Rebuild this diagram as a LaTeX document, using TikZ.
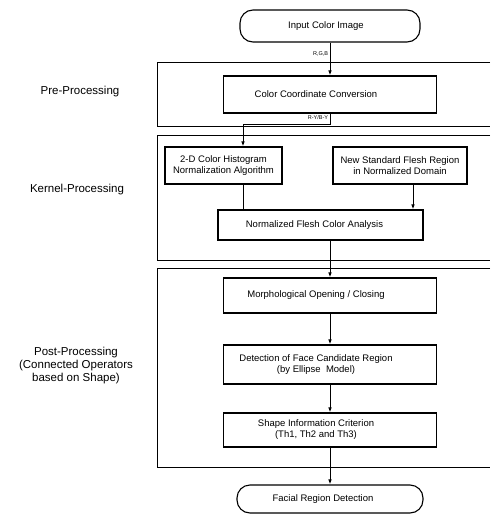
\documentclass[tikz,border=0pt]{standalone}
\usepackage{fontspec}
\setmainfont{Liberation Sans}
\usepackage{tikz}
\usetikzlibrary{arrows.meta,positioning,calc}

\begin{document}
\begin{tikzpicture}[x=1pt, y=-1pt, >={Latex[length=5pt,width=3.6pt]},
    blk/.style={draw, line width=1.1pt, inner sep=2pt, font=\fontsize{9.5}{11}\selectfont, align=center},
    term/.style={blk, rounded corners=13pt},
    txt/.style={font=\fontsize{9.5}{11}\selectfont, align=center, xshift=-14pt},
    panel/.style={draw, line width=0.9pt},
    stage/.style={font=\fontsize{11.5}{13}\selectfont, align=center},
    sm/.style={font=\fontsize{5.5}{6}\selectfont, inner sep=1.5pt},
    arr/.style={->, line width=1pt}]
	  \useasboundingbox (0,0) rectangle (490,514);
	  % processing stages
	  \draw[panel] (490,62) -| (157,126) -- (490,126);
	  \draw[panel] (490,135) -| (157,260) -- (490,260);
	  \draw[panel] (490,268) -| (157,467) -- (490,467);
	  \node[stage] (pre) at (80,92) {Pre-Processing};
	  \node[stage] (kern) at (77,190) {Kernel-Processing};
	  \node[stage] (post) at (76,366) {Post-Processing\\(Connected Operators\\based on Shape)};
	  % blocks
	  \node[term, minimum width=180pt, minimum height=32pt] (in) at (330,26) {\hspace*{-8pt}Input Color Image};
	  \node[blk, minimum width=213pt, minimum height=37pt, label={[txt]center:Color Coordinate Conversion}] (ccc) at (330,94.5) {};
	  \node[blk, minimum width=117pt, minimum height=37pt] (hist) at (223.5,165.5) {2-D Color Histogram\\Normalization Algorithm};
	  \node[blk, minimum width=134pt, minimum height=37pt] (nsf) at (400,165.5) {New Standard Flesh Region\\in Normalized Domain};
	  \node[blk, minimum width=205pt, minimum height=30pt, label={[txt, xshift=8pt]center:Normalized Flesh Color Analysis}] (nfca) at (320.5,225) {};
	  \node[blk, minimum width=213pt, minimum height=35pt, label={[txt]center:Morphological Opening / Closing}] (morph) at (330,295.5) {};
	  \node[blk, minimum width=213pt, minimum height=39pt, label={[txt]center:Detection of Face Candidate Region\\(by Ellipse\ \ Model)}] (det) at (330,364.5) {};
	  \node[blk, minimum width=213pt, minimum height=34pt, label={[txt]center:Shape Information Criterion\\(Th1, Th2 and Th3)}] (shp) at (330,430) {};
	  \node[term, minimum width=186pt, minimum height=28pt] (out) at (330,499) {\hspace*{-14pt}Facial Region Detection};
	  % flow
	  \draw[arr] (in) -- node[sm, pos=0.35, left] {R,G,B} (ccc);
	  \draw[arr] (ccc.south) -- node[sm, pos=0.4, left] {R-Y/B-Y} ++(0,11) -| ([xshift=19.5pt]hist.north);
	  \draw[line width=1pt] ([xshift=19.5pt]hist.south) -- ([xshift=19.5pt]hist.south |- nfca.north);
	  \draw[arr] ([xshift=13pt]nsf.south) -- ([xshift=13pt]nsf.south |- nfca.north);
	  \draw[arr] (morph.north |- nfca.south) -- (morph);
	  \draw[arr] (morph) -- (det);
	  \draw[arr] (det) -- (shp);
	  \draw[arr] (shp) -- (out);
	\end{tikzpicture}
\end{document}
